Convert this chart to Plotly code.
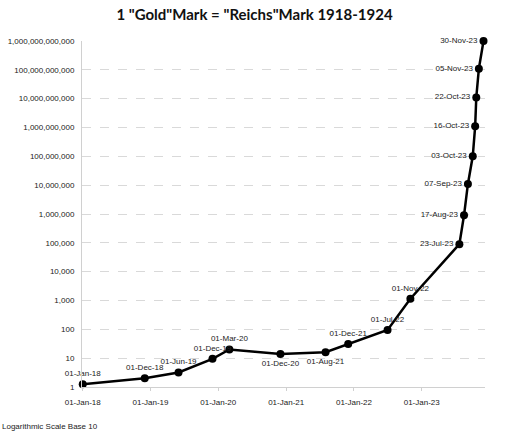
import plotly.graph_objects as go

dates = ["1918-01-01", "1918-12-01", "1919-06-01", "1919-12-01", "1920-03-01",
         "1920-12-01", "1921-08-01", "1921-12-01", "1922-07-01", "1922-11-01",
         "1923-07-23", "1923-08-17", "1923-09-07", "1923-10-03", "1923-10-16",
         "1923-10-22", "1923-11-05", "1923-11-30"]
labels = ["01-Jan-18", "01-Dec-18", "01-Jun-19", "01-Dec-19", "01-Mar-20",
          "01-Dec-20", "01-Aug-21", "01-Dec-21", "01-Jul-22", "01-Nov-22",
          "23-Jul-23", "17-Aug-23", "07-Sep-23", "03-Oct-23", "16-Oct-23",
          "22-Oct-23", "05-Nov-23", "30-Nov-23"]
marks = [1.25, 2.0, 3.2, 9.5, 20, 14, 16, 31, 95, 1150,
         90000, 900000, 1.1e7, 1.0e8, 1.1e9, 1.1e10, 1.1e11, 1.0e12]
label_pos = ["top center"] * 5 + ["bottom center"] * 2 + ["top center"] * 3 + ["middle left"] * 8

y_tickvals = [1, 10, 100, 1000, 1e4, 1e5, 1e6, 1e7, 1e8, 1e9, 1e10, 1e11, 1e12]
y_ticktext = ["1", "10", "100", "1,000", "10,000", "100,000", "1,000,000",
              "10,000,000", "100,000,000", "1,000,000,000", "10,000,000,000",
              "100,000,000,000", "1,000,000,000,000"]
x_tickvals = ["1918-01-01", "1919-01-01", "1920-01-01", "1921-01-01",
              "1922-01-01", "1923-01-01"]
x_ticktext = ["01-Jan-18", "01-Jan-19", "01-Jan-20", "01-Jan-21", "01-Jan-22", "01-Jan-23"]

title_font = "Lato"
small = "Liberation Sans"
txt = "#222222"

fig = go.Figure()
fig.add_trace(go.Scatter(
    x=dates, y=marks, mode="lines+markers+text",
    text=labels, textposition=label_pos,
    textfont=dict(family=small, size=8, color=txt),
    line=dict(color="black", width=2.5),
    marker=dict(color="black", size=8),
    cliponaxis=False, showlegend=False, hoverinfo="skip",
))

fig.update_layout(
    width=509, height=444,
    margin=dict(l=82, r=24, t=41, b=57, autoexpand=False),
    paper_bgcolor="white", plot_bgcolor="white",
    title=dict(text='1 "Gold"Mark = "Reichs"Mark 1918-1924', x=0.5, xanchor="center",
               y=0.966, yanchor="middle",
               font=dict(family=title_font, size=15, color="#111111", weight="bold")),
    font=dict(family=small, size=8, color=txt),
    xaxis=dict(type="date", range=["1917-12-28", "1923-12-08"],
               tickvals=x_tickvals, ticktext=x_ticktext, automargin=False,
               showgrid=False, showline=True, linecolor="#d0d0d0", linewidth=1,
               ticks="outside", ticklen=3, tickcolor="#d0d0d0", ticklabelstandoff=4,
               tickfont=dict(family=small, size=8, color=txt), zeroline=False),
    yaxis=dict(type="log", range=[0, 12], automargin=False,
               tickvals=y_tickvals, ticktext=y_ticktext,
               showgrid=True, gridcolor="#d9d9d9", griddash="dash", gridwidth=1,
               showline=True, linecolor="#d0d0d0", linewidth=1,
               ticks="", ticklabelstandoff=5,
               tickfont=dict(family=small, size=8, color=txt),
               zeroline=False),
)

fig.add_annotation(text="Logarithmic Scale Base 10", xref="paper", yref="paper",
                   x=-82/403, y=-39/346, xanchor="left", yanchor="middle",
                   showarrow=False, font=dict(family=small, size=8, color=txt))

fig.write_html("out.html", config={"displayModeBar": False},
               post_script="document.body.style.margin='0';")
